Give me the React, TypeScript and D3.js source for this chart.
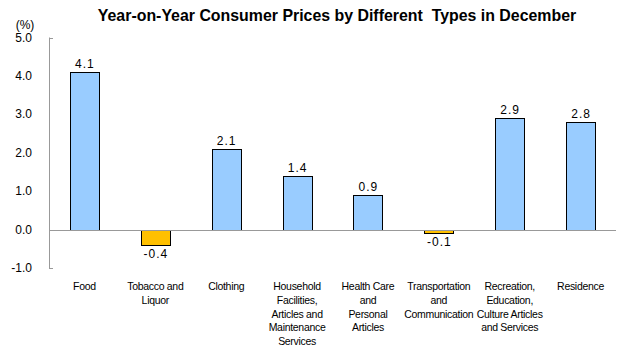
import { useEffect, useRef } from "react";
import * as d3 from "d3";

const categories: string[][] = [
	["Food"],
	["Tobacco and", "Liquor"],
	["Clothing"],
	["Household", "Facilities,", "Articles and", "Maintenance", "Services"],
	["Health Care", "and", "Personal", "Articles"],
	["Transportation", "and", "Communication"],
	["Recreation,", "Education,", "Culture Articles", "and Services"],
	["Residence"],
];
const values: number[] = [4.1, -0.4, 2.1, 1.4, 0.9, -0.1, 2.9, 2.8];
const yTicks: number[] = [5, 4, 3, 2, 1, 0, -1];
const title = "Year-on-Year Consumer Prices by Different  Types in December";

const App = () => {
	const svgRef = useRef<SVGSVGElement>(null);

	useEffect(() => {
		if (!svgRef.current) return;
		const font = "Arial, 'Liberation Sans', sans-serif";
		const fmt = (d: number) => d.toFixed(1);

		const svg = d3.select(svgRef.current);
		svg.selectAll("*").remove();

		// échelles
		const x = d3
			.scaleBand<number>()
			.domain(d3.range(values.length))
			.range([49, 616])
			.paddingInner(0.59)
			.paddingOuter(0.295);
		const y = d3.scaleLinear().domain([-1, 5]).range([268, 37.5]);
		const y0 = Math.round(y(0));

		// titre
		svg
			.append("text")
			.attr("x", 337)
			.attr("y", 21)
			.attr("text-anchor", "middle")
			.style("font-family", font)
			.style("font-size", "15.9px")
			.style("font-weight", "bold")
			.style("white-space", "pre")
			.text(title);

		// unité
		svg
			.append("text")
			.attr("x", 25)
			.attr("y", 29)
			.attr("text-anchor", "middle")
			.style("font-family", font)
			.style("font-size", "12px")
			.text("(%)");

		// axe des y
		const axisX = 49;
		svg
			.append("line")
			.attr("x1", axisX + 0.5)
			.attr("x2", axisX + 0.5)
			.attr("y1", y(5))
			.attr("y2", y(-1))
			.attr("stroke", "#999");
		[5, -1].forEach((t) => {
			svg
				.append("line")
				.attr("x1", axisX)
				.attr("x2", axisX + 4)
				.attr("y1", Math.round(y(t)) + 0.5)
				.attr("y2", Math.round(y(t)) + 0.5)
				.attr("stroke", "#999");
		});
		svg
			.append("g")
			.selectAll("text")
			.data(yTicks)
			.enter()
			.append("text")
			.attr("x", 32)
			.attr("y", (d) => y(d) + 4)
			.attr("text-anchor", "end")
			.style("font-family", font)
			.style("font-size", "12px")
			.text((d) => fmt(d));

		// barres
		svg
			.append("g")
			.selectAll("rect")
			.data(values)
			.enter()
			.append("rect")
			.attr("x", (_d, i) => Math.round(x(i)!) + 0.5)
			.attr("y", (d) => Math.min(Math.round(y(d)), y0) + 0.5)
			.attr("width", Math.round(x.bandwidth()))
			.attr("height", (d) => Math.abs(Math.round(y(d)) - y0))
			.attr("fill", (d) => (d < 0 ? "#FFC000" : "#99CCFF"))
			.attr("stroke", "#000")
			.attr("stroke-width", 1);

		// ligne zéro
		svg
			.append("line")
			.attr("x1", axisX)
			.attr("x2", 616)
			.attr("y1", y0 + 0.5)
			.attr("y2", y0 + 0.5)
			.attr("stroke", "#999");

		// étiquettes de valeurs
		svg
			.append("g")
			.selectAll("text")
			.data(values)
			.enter()
			.append("text")
			.attr("x", (_d, i) => x(i)! + x.bandwidth() / 2 + 0.5)
			.attr("y", (d) => (d >= 0 ? y(d) - 4 : y(d) + 13))
			.attr("text-anchor", "middle")
			.style("font-family", font)
			.style("font-size", "12px")
			.style("letter-spacing", "1px")
			.text((d) => fmt(d));

		// étiquettes des catégories
		const labels = svg
			.append("g")
			.selectAll("text")
			.data(categories)
			.enter()
			.append("text")
			.attr("x", (_d, i) => x(i)! + x.bandwidth() / 2)
			.attr("y", 290)
			.attr("text-anchor", "middle")
			.style("font-family", font)
			.style("font-size", "10.5px")
			.style("letter-spacing", "-0.3px");
		labels
			.selectAll("tspan")
			.data((d) => d)
			.enter()
			.append("tspan")
			.attr("x", function () {
				return (this as SVGTSpanElement).parentElement!.getAttribute("x");
			})
			.attr("dy", (_d, i) => (i === 0 ? 0 : 13.8))
			.text((d) => d);
	}, []);

	return (
		<svg
			ref={svgRef}
			width={630}
			height={350}
			style={{ position: "absolute", left: 0, top: 0, background: "#fff" }}
		></svg>
	);
};

export default App;
